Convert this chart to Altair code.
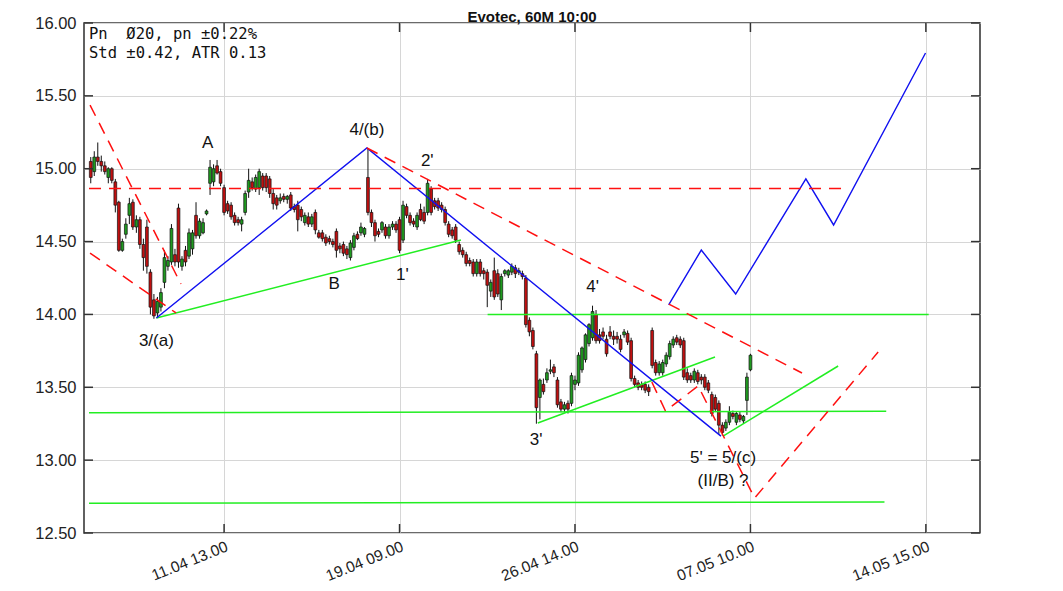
import altair as alt
import pandas as pd

# ---------------- candle data (hourly bars, index = bar number) ----------------
opens = [
    15.05, 14.98, 15.08, 15.05, 15.02, 14.94, 15.00, 14.91, 14.77, 14.44,
    14.55, 14.68, 14.77, 14.60, 14.65, 14.48, 14.60, 14.29, 14.10, 14.01,
    14.05, 14.22, 14.33, 14.36, 14.41, 14.73, 14.33, 14.44, 14.40, 14.45,
    14.68, 14.54, 14.56, 14.69, 14.90, 14.91, 15.02, 14.98, 14.87, 14.76,
    14.75, 14.68, 14.65, 14.62, 14.70, 14.84, 14.91, 14.86, 14.87, 14.95,
    14.95, 14.93, 14.83, 14.80, 14.78, 14.81, 14.79, 14.82, 14.74, 14.75,
    14.72, 14.63, 14.67, 14.62, 14.70, 14.56, 14.56, 14.53, 14.52, 14.50,
    14.57, 14.47, 14.48, 14.45, 14.39, 14.46, 14.55, 14.56, 14.55, 14.94,
    14.70, 14.63, 14.57, 14.58, 14.60, 14.54, 14.60, 14.62, 14.65, 14.51,
    14.74, 14.68, 14.64, 14.60, 14.72, 14.70, 14.70, 14.86, 14.78, 14.78,
    14.75, 14.72, 14.62, 14.58, 14.60, 14.48, 14.44, 14.41, 14.37, 14.36,
    14.28, 14.36, 14.30, 14.29, 14.16, 14.30, 14.28, 14.10, 14.28, 14.27,
    14.29, 14.32, 14.29, 14.28, 14.25, 13.96, 13.89, 13.73, 13.43, 13.52,
    13.55, 13.61, 13.64, 13.55, 13.40, 13.35, 13.39, 13.39, 13.52, 13.53,
    13.62, 13.69, 13.80, 13.84, 14.00, 13.86, 13.88, 13.83, 13.88, 13.85,
    13.85, 13.83, 13.86, 13.87, 13.82, 13.56, 13.53, 13.52, 13.52, 13.50,
    13.89, 13.67, 13.60, 13.60, 13.66, 13.71, 13.79, 13.84, 13.83, 13.82,
    13.60, 13.58, 13.55, 13.60, 13.57, 13.57, 13.53, 13.45, 13.43, 13.39,
    13.24, 13.22, 13.26, 13.32, 13.26, 13.31, 13.27, 13.41, 13.62,
]
highs = [
    15.08, 15.12, 15.18, 15.09, 15.05, 15.01, 15.01, 14.93, 14.78, 14.52,
    14.66, 14.80, 14.79, 14.68, 14.67, 14.52, 14.65, 14.31, 14.14, 14.12,
    14.18, 14.44, 14.40, 14.62, 14.45, 14.76, 14.40, 14.47, 14.59, 14.58,
    14.77, 14.66, 14.66, 14.72, 15.06, 15.03, 15.06, 15.00, 14.89, 14.78,
    14.77, 14.70, 14.67, 14.67, 14.85, 15.00, 14.94, 14.96, 15.00, 14.97,
    14.97, 14.95, 14.86, 14.82, 14.83, 14.83, 14.82, 14.84, 14.76, 14.78,
    14.74, 14.70, 14.70, 14.69, 14.72, 14.58, 14.58, 14.55, 14.54, 14.52,
    14.59, 14.49, 14.50, 14.47, 14.51, 14.56, 14.57, 14.63, 14.60, 15.14,
    14.72, 14.65, 14.59, 14.64, 14.62, 14.62, 14.64, 14.64, 14.67, 14.78,
    14.76, 14.70, 14.66, 14.70, 14.76, 14.74, 14.93, 14.88, 14.80, 14.80,
    14.77, 14.74, 14.64, 14.60, 14.62, 14.50, 14.46, 14.43, 14.39, 14.38,
    14.38, 14.38, 14.32, 14.31, 14.24, 14.39, 14.31, 14.28, 14.31, 14.31,
    14.35, 14.34, 14.32, 14.30, 14.27, 13.98, 13.91, 13.75, 13.56, 13.56,
    13.63, 13.69, 13.66, 13.57, 13.42, 13.40, 13.41, 13.60, 13.58, 13.74,
    13.78, 13.87, 13.94, 14.06, 14.03, 13.90, 13.91, 13.86, 13.92, 13.89,
    13.88, 13.86, 13.90, 13.89, 13.84, 13.58, 13.55, 13.54, 13.54, 13.52,
    13.91, 13.69, 13.68, 13.69, 13.74, 13.82, 13.85, 13.86, 13.85, 13.84,
    13.63, 13.60, 13.63, 13.62, 13.59, 13.59, 13.55, 13.47, 13.45, 13.41,
    13.26, 13.28, 13.37, 13.34, 13.33, 13.33, 13.31, 13.60, 13.73,
]
lows = [
    14.90, 14.95, 15.02, 14.98, 14.96, 14.90, 14.90, 14.70, 14.43, 14.43,
    14.52, 14.62, 14.58, 14.56, 14.45, 14.30, 14.28, 14.00, 13.97, 13.98,
    14.02, 14.18, 14.30, 14.34, 14.33, 14.32, 14.30, 14.33, 14.38, 14.41,
    14.52, 14.52, 14.55, 14.68, 14.82, 14.88, 14.96, 14.88, 14.68, 14.69,
    14.65, 14.61, 14.61, 14.57, 14.68, 14.80, 14.85, 14.84, 14.82, 14.85,
    14.84, 14.80, 14.72, 14.72, 14.76, 14.77, 14.76, 14.71, 14.70, 14.57,
    14.64, 14.61, 14.60, 14.60, 14.55, 14.52, 14.50, 14.47, 14.48, 14.46,
    14.39, 14.42, 14.40, 14.38, 14.37, 14.44, 14.51, 14.54, 14.53, 14.68,
    14.60, 14.50, 14.53, 14.56, 14.52, 14.52, 14.58, 14.56, 14.42, 14.49,
    14.66, 14.61, 14.60, 14.58, 14.64, 14.62, 14.68, 14.68, 14.72, 14.71,
    14.70, 14.61, 14.53, 14.52, 14.49, 14.41, 14.39, 14.33, 14.33, 14.26,
    14.26, 14.26, 14.24, 14.05, 14.12, 14.10, 14.12, 14.03, 14.26, 14.25,
    14.27, 14.25, 14.27, 14.24, 13.91, 13.85, 13.76, 13.25, 13.28, 13.45,
    13.53, 13.59, 13.57, 13.36, 13.33, 13.33, 13.32, 13.37, 13.48, 13.51,
    13.60, 13.67, 13.78, 13.82, 13.80, 13.80, 13.83, 13.71, 13.83, 13.79,
    13.80, 13.74, 13.84, 13.79, 13.54, 13.50, 13.48, 13.48, 13.46, 13.44,
    13.63, 13.58, 13.58, 13.58, 13.64, 13.69, 13.77, 13.79, 13.77, 13.55,
    13.53, 13.53, 13.53, 13.52, 13.52, 13.48, 13.46, 13.30, 13.33, 13.18,
    13.17, 13.20, 13.24, 13.28, 13.24, 13.26, 13.25, 13.31, 13.61,
]
closes = [
    14.94, 15.08, 15.05, 15.02, 14.98, 15.00, 14.92, 14.75, 14.44, 14.50,
    14.62, 14.76, 14.60, 14.65, 14.48, 14.39, 14.33, 14.05, 13.99, 14.09,
    14.15, 14.39, 14.37, 14.59, 14.36, 14.36, 14.38, 14.36, 14.56, 14.56,
    14.54, 14.64, 14.63, 14.71, 15.01, 15.00, 14.97, 14.90, 14.70, 14.71,
    14.67, 14.63, 14.63, 14.65, 14.83, 14.92, 14.87, 14.94, 14.98, 14.87,
    14.87, 14.83, 14.76, 14.75, 14.80, 14.79, 14.81, 14.73, 14.72, 14.65,
    14.67, 14.68, 14.62, 14.67, 14.58, 14.53, 14.52, 14.49, 14.50, 14.48,
    14.44, 14.45, 14.42, 14.41, 14.49, 14.54, 14.52, 14.60, 14.59, 14.70,
    14.63, 14.54, 14.55, 14.63, 14.54, 14.60, 14.62, 14.58, 14.44, 14.75,
    14.68, 14.63, 14.62, 14.68, 14.65, 14.64, 14.90, 14.70, 14.74, 14.73,
    14.72, 14.63, 14.55, 14.54, 14.51, 14.43, 14.41, 14.35, 14.35, 14.28,
    14.36, 14.28, 14.28, 14.20, 14.22, 14.12, 14.14, 14.26, 14.30, 14.30,
    14.33, 14.28, 14.30, 14.26, 13.93, 13.88, 13.78, 13.36, 13.55, 13.47,
    13.60, 13.62, 13.60, 13.38, 13.35, 13.38, 13.35, 13.58, 13.55, 13.72,
    13.77, 13.86, 13.93, 14.02, 13.82, 13.82, 13.85, 13.73, 13.85, 13.83,
    13.83, 13.76, 13.88, 13.81, 13.56, 13.52, 13.50, 13.50, 13.48, 13.47,
    13.65, 13.60, 13.66, 13.67, 13.72, 13.80, 13.83, 13.81, 13.79, 13.57,
    13.55, 13.55, 13.61, 13.54, 13.55, 13.50, 13.48, 13.32, 13.35, 13.24,
    13.19, 13.26, 13.33, 13.30, 13.32, 13.28, 13.30, 13.57, 13.72,
]
bar_index = list(range(len(opens)))

# ---------------- axes ----------------
x_tick_values = [38, 88, 138, 188, 238]
x_tick_labels = ["11.04 13.00", "19.04 09.00", "26.04 14.00", "07.05 10.00", "14.05 15.00"]
y_tick_values = [12.5, 13.0, 13.5, 14.0, 14.5, 15.0, 15.5, 16.0]
x_domain = [-0.5, 252]
y_domain = [12.5, 16.0]

chart_title = "Evotec, 60M 10:00"

# ---------------- wave / trend lines ----------------
blue_wave_x = [18.7, 78.7, 179.6]
blue_wave_y = [13.975, 15.142, 13.165]
blue_proj_x = [164.7, 174.0, 183.8, 203.8, 211.7, 237.9]
blue_proj_y = [14.065, 14.442, 14.14, 14.93, 14.614, 15.794]

green_ab_x = [18.7, 105.5]
green_ab_y = [13.975, 14.511]
green_14_x = [113.1, 238.8]
green_14_y = [14.0, 14.0]
green_3_x = [127.4, 177.9]
green_3_y = [13.255, 13.708]
green_1333_x = [-0.5, 226.7]
green_1333_y = [13.325, 13.335]
green_1271_x = [-0.5, 226.2]
green_1271_y = [12.705, 12.712]
green_5_x = [180.2, 213.0]
green_5_y = [13.165, 13.646]

red_h_x = [-0.5, 214.5]
red_h_y = [14.865, 14.865]
red_a_x = [-0.2, 25.7]
red_a_y = [15.437, 14.209]
red_b_x = [-0.2, 24.3]
red_b_y = [14.421, 14.01]
red_c_x = [78.7, 202.7]
red_c_y = [15.142, 13.598]
red_d_x = [159.9, 163.8, 173.1, 189.2, 224.4]
red_d_y = [13.536, 13.337, 13.509, 12.74, 13.742]

wave_label_text = ["A", "4/(b)", "2'", "B", "1'", "3/(a)", "4'", "3'", "5' = 5/(c)", "(II/B) ?"]
wave_label_x = [33.3, 78.7, 95.9, 69.4, 88.8, 18.7, 143.0, 126.9, 180.2, 180.2]
wave_label_y = [15.176, 15.266, 15.053, 14.209, 14.27, 13.817, 14.188, 13.138, 13.014, 12.857]

info_lines = ["Pn\u00a0\u00a0\u00d820, pn \u00b10.22%", "Std \u00b10.42, ATR 0.13"]

# ---------------- build tables ----------------
candles = pd.DataFrame({"i": bar_index, "o": opens, "h": highs, "l": lows, "c": closes})


def lines_table(pairs):
    rows = []
    for name, xs, ys in pairs:
        for k, (xv, yv) in enumerate(zip(xs, ys)):
            rows.append({"line": name, "seq": k, "x": xv, "y": yv})
    return pd.DataFrame(rows)


blue_df = lines_table([("bw", blue_wave_x, blue_wave_y), ("bp", blue_proj_x, blue_proj_y)])
green_df = lines_table([
    ("g1", green_ab_x, green_ab_y), ("g2", green_14_x, green_14_y),
    ("g3", green_3_x, green_3_y), ("g4", green_1333_x, green_1333_y),
    ("g5", green_1271_x, green_1271_y), ("g6", green_5_x, green_5_y),
])
red_df = lines_table([
    ("r1", red_h_x, red_h_y), ("r2", red_a_x, red_a_y), ("r3", red_b_x, red_b_y),
    ("r4", red_c_x, red_c_y), ("r5", red_d_x, red_d_y),
])
labels_df = pd.DataFrame({"t": wave_label_text, "x": wave_label_x, "y": wave_label_y})
xticks_df = pd.DataFrame({"v": x_tick_values})
yticks_df = pd.DataFrame({"v": y_tick_values})

W, H = 896, 510

label_expr = " : ".join(
    f"datum.value == {v} ? '{t}'" for v, t in zip(x_tick_values, x_tick_labels)
) + " : ''"

x_axis = alt.Axis(values=x_tick_values, labelExpr=label_expr, title=None, grid=True,
                  ticks=False, domain=False, labelAngle=338, labelAlign="right",
                  labelBaseline="top", labelPadding=6, labelFontSize=15.5)
y_axis = alt.Axis(values=y_tick_values, format=".2f", title=None, grid=True,
                  ticks=False, domain=False, labelPadding=8, labelFontSize=16.5)


def X(field):
    return alt.X(field, type="quantitative", scale=alt.Scale(domain=x_domain, nice=False, zero=False), axis=x_axis)


def Y(field):
    return alt.Y(field, type="quantitative", scale=alt.Scale(domain=y_domain, nice=False, zero=False), axis=y_axis)


wicks = alt.Chart(candles).mark_rule(color="#111111", strokeWidth=1).encode(
    x=X("i"), y=Y("l"), y2="h")
bodies = alt.Chart(candles).mark_bar(size=2.8, stroke="#111111", strokeWidth=0.7).encode(
    x=X("i"), y=Y("o"), y2="c",
    fill=alt.condition("datum.c >= datum.o", alt.value("#1f9a1f"), alt.value("#c01010")))

green_layer = alt.Chart(green_df).mark_line(color="#22ee22", strokeWidth=1.5, clip=True).encode(
    x=X("x"), y=Y("y"), detail="line:N", order="seq:Q")
blue_layer = alt.Chart(blue_df).mark_line(color="#1010f0", strokeWidth=1.4, clip=True).encode(
    x=X("x"), y=Y("y"), detail="line:N", order="seq:Q")
red_layer = alt.Chart(red_df).mark_line(color="#ff1010", strokeWidth=1.5, strokeDash=[12, 8], clip=True).encode(
    x=X("x"), y=Y("y"), detail="line:N", order="seq:Q")

labels = alt.Chart(labels_df).mark_text(font="Liberation Sans", fontSize=17, color="#111111",
                                        align="center", baseline="middle").encode(
    x=X("x"), y=Y("y"), text="t:N")

info1 = alt.Chart(pd.DataFrame({"t": [info_lines[0]]})).mark_text(
    font="DejaVu Sans Mono", fontSize=15.5, color="#111111", align="left", baseline="middle").encode(
    x=alt.value(5), y=alt.value(11), text="t:N")
info2 = alt.Chart(pd.DataFrame({"t": [info_lines[1]]})).mark_text(
    font="DejaVu Sans Mono", fontSize=15.5, color="#111111", align="left", baseline="middle").encode(
    x=alt.value(5), y=alt.value(30), text="t:N")

title_text = alt.Chart(pd.DataFrame({"t": [chart_title]})).mark_text(
    font="Liberation Sans", fontSize=15, fontWeight="bold", color="#111111",
    align="center", baseline="middle").encode(
    x=alt.value(W / 2), y=alt.value(-6), text="t:N")

tick_col = "#333333"
xt_top = alt.Chart(xticks_df).mark_rule(color=tick_col, strokeWidth=1.5).encode(
    x=X("v"), y=alt.value(0), y2=alt.value(9))
xt_bot = alt.Chart(xticks_df).mark_rule(color=tick_col, strokeWidth=1.5).encode(
    x=X("v"), y=alt.value(H), y2=alt.value(H - 9))
yt_left = alt.Chart(yticks_df).mark_rule(color=tick_col, strokeWidth=1.5).encode(
    y=Y("v"), x=alt.value(0), x2=alt.value(9))
yt_right = alt.Chart(yticks_df).mark_rule(color=tick_col, strokeWidth=1.5).encode(
    y=Y("v"), x=alt.value(W), x2=alt.value(W - 9))

chart = alt.layer(
    wicks, bodies, green_layer, blue_layer, red_layer, labels, info1, info2, title_text,
    xt_top, xt_bot, yt_left, yt_right,
).properties(
    width=W, height=H,
    autosize=alt.AutoSizeParams(type="none"),
    padding={"left": 76, "top": 15, "right": 75, "bottom": 50},
).configure_view(
    stroke="#3a3a3a", strokeWidth=1.6
).configure_axis(
    gridColor="#d6d6d6", gridWidth=1, labelFont="Liberation Sans", labelColor="#222222"
)

chart.save("out.html", embed_options={"renderer": "svg", "actions": False})
